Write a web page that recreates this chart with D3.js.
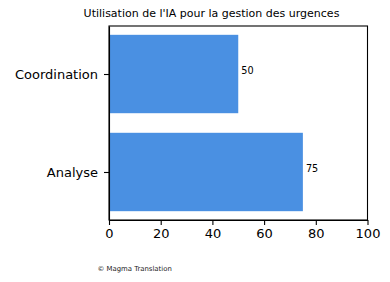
<!DOCTYPE html>
<html lang="fr">
<head>
<meta charset="utf-8">
<title>Utilisation de l'IA pour la gestion des urgences</title>
<script src="https://d3js.org/d3.v7.min.js"></script>
<style>
  body { margin: 0; background: #fff; }
  svg { font-family: "DejaVu Sans", sans-serif; display: block; }
  .axis path, .axis line { stroke: #000; stroke-width: 1.1px; }
  .axis text { font-family: "DejaVu Sans", sans-serif; font-size: 13px; fill: #000; }
</style>
</head>
<body>
<script>
// data
const categories = ["Analyse", "Coordination"];
const values = [75, 50];
const xTicks = [0, 20, 40, 60, 80, 100];

const w = 390, h = 282;
const mLeft = 109, mRight = 367.5, mTop = 26, mBottom = 220;

const svg = d3.select("body").append("svg")
    .attr("width", w)
    .attr("height", h);

const xScale = d3.scaleLinear().domain([0, 100]).range([mLeft, mRight]);
// matplotlib-like y: categories at 0,1 with bar height 0.8 and 5% margins
const yScale = d3.scaleLinear().domain([-0.49, 1.49]).range([mBottom, mTop]);
const barH = 0.8;

svg.selectAll(".bar")
    .data(categories)
    .enter()
    .append("rect")
    .attr("class", "bar")
    .attr("x", xScale(0))
    .attr("y", (d, i) => yScale(i + barH / 2))
    .attr("width", (d, i) => xScale(values[i]) - xScale(0))
    .attr("height", yScale(-barH / 2) - yScale(barH / 2))
    .attr("fill", "#4a90e2");

svg.selectAll(".val")
    .data(categories)
    .enter()
    .append("text")
    .attr("x", (d, i) => xScale(values[i]) + 3)
    .attr("y", (d, i) => yScale(i) - 3.5)
    .attr("dy", "0.35em")
    .attr("font-size", "9.7px")
    .attr("fill", "#000")
    .text((d, i) => values[i]);

// axes
svg.append("g")
    .attr("class", "axis")
    .attr("transform", "translate(0," + mBottom + ")")
    .call(d3.axisBottom(xScale).tickValues(xTicks).tickSize(5).tickPadding(4).tickSizeOuter(0));

svg.append("g")
    .attr("class", "axis")
    .attr("transform", "translate(" + mLeft + ",0)")
    .call(d3.axisLeft(yScale).tickValues([0, 1]).tickFormat(i => categories[i]).tickSize(5).tickPadding(6).tickSizeOuter(0));

// frame
svg.append("rect")
    .attr("x", mLeft)
    .attr("y", mTop)
    .attr("width", mRight - mLeft)
    .attr("height", mBottom - mTop)
    .attr("fill", "none")
    .attr("stroke", "#000")
    .attr("stroke-width", 1.1);

// title
svg.append("text")
    .attr("x", 211.5)
    .attr("y", 17)
    .attr("text-anchor", "middle")
    .attr("font-size", "11px")
    .attr("fill", "#000")
    .text("Utilisation de l'IA pour la gestion des urgences");

svg.append("text")
    .attr("x", 97.5)
    .attr("y", 271)
    .attr("font-size", "6.9px")
    .attr("fill", "#222")
    .text("© Magma Translation");
</script>
</body>
</html>
